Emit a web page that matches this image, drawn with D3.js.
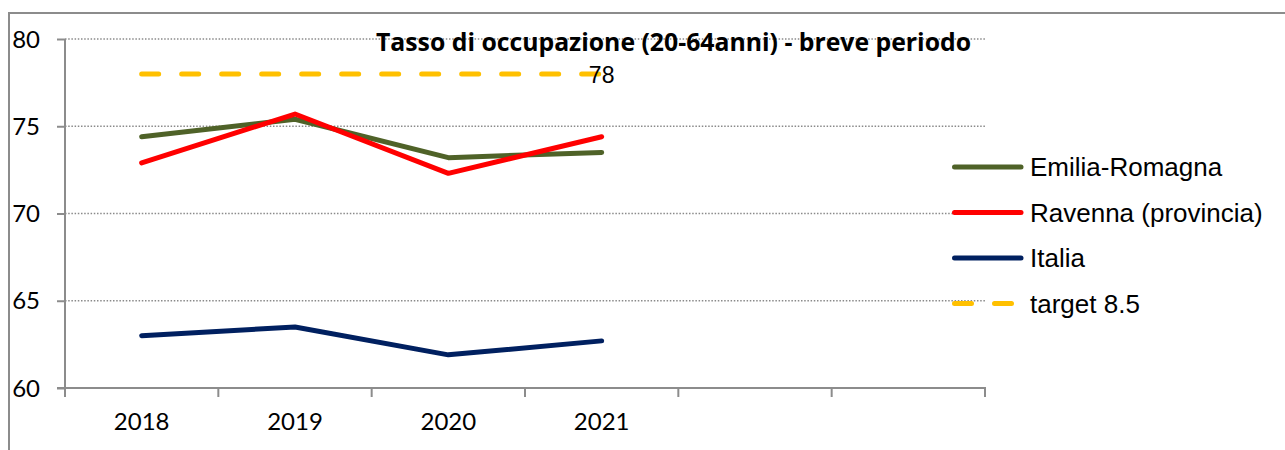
<!DOCTYPE html>
<html>
<head>
<meta charset="utf-8">
<script src="https://cdn.jsdelivr.net/npm/d3@7"></script>
<style>
  html, body { margin: 0; padding: 0; background: #fff; }
  svg { display: block; }
</style>
</head>
<body>
<svg id="chart" width="1285" height="450"></svg>
<script>
// data
const years = ['2018', '2019', '2020', '2021'];
const slots = 6; // two empty categories on the right of the axis
const emiliaRomagna = [74.4, 75.4, 73.2, 73.5];
const ravenna = [72.9, 75.7, 72.3, 74.4];
const italia = [63.0, 63.5, 61.9, 62.7];
const target = [78, 78, 78, 78];
const yTicks = [60, 65, 70, 75, 80];

const series = [
    { name: 'Emilia-Romagna', values: emiliaRomagna, color: '#4F6228' },
    { name: 'Ravenna (provincia)', values: ravenna, color: '#FF0000' },
    { name: 'Italia', values: italia, color: '#002060' },
    { name: 'target 8.5', values: target, color: '#FFC000', dashed: true }
];

const svg = d3.select('#chart');
const axisColor = '#8c8c8c';

const x = d3.scaleBand().domain(d3.range(slots)).range([65, 985]).padding(0);
const y = d3.scaleLinear().domain([60, 80]).range([388, 39]);
const xc = i => x(i) + x.bandwidth() / 2;

// outer frame (only top and left edges are visible)
svg.append('rect')
    .attr('x', 9).attr('y', 13)
    .attr('width', 1400).attr('height', 600)
    .attr('fill', 'none')
    .attr('stroke', axisColor)
    .attr('stroke-width', 2);

// gridlines
svg.append('g')
    .selectAll('line')
    .data(yTicks.filter(t => t > 60))
    .join('line')
        .attr('x1', 65).attr('x2', 985)
        .attr('y1', d => y(d)).attr('y2', d => y(d))
        .attr('stroke', '#8a8a8a')
        .attr('stroke-width', 1.3)
        .attr('stroke-dasharray', '1.5,1.7');

// y axis
const yAxis = svg.append('g')
    .attr('transform', 'translate(65,0)')
    .call(d3.axisLeft(y).tickValues(yTicks).tickSize(8).tickPadding(17));
yAxis.select('.domain').attr('stroke', axisColor).attr('stroke-width', 2).attr('d', `M0,${y(80)}V${y(60) + 9}`);
yAxis.selectAll('.tick line').attr('stroke', axisColor).attr('stroke-width', 2);
yAxis.selectAll('.tick text')
    .attr('fill', '#000')
    .attr('font-family', 'Lato, "Open Sans", sans-serif')
    .attr('font-size', 24)
    .attr('dy', '0.34em');

// x axis: ticks sit on the category boundaries
const xAxis = svg.append('g').attr('transform', `translate(0,${y(60)})`);
xAxis.append('line')
    .attr('x1', 57).attr('x2', 986)
    .attr('stroke', axisColor).attr('stroke-width', 2);
xAxis.selectAll('.xtick')
    .data(d3.range(slots + 1))
    .join('line')
        .attr('class', 'xtick')
        .attr('x1', d => 65 + d * x.step()).attr('x2', d => 65 + d * x.step())
        .attr('y1', 0).attr('y2', 9)
        .attr('stroke', axisColor).attr('stroke-width', 2);
xAxis.selectAll('.xlabel')
    .data(years)
    .join('text')
        .attr('class', 'xlabel')
        .attr('x', (d, i) => xc(i))
        .attr('y', 42)
        .attr('text-anchor', 'middle')
        .attr('font-family', 'Lato, "Open Sans", sans-serif')
        .attr('font-size', 24)
        .text(d => d);

// lines
const line = d3.line().x((d, i) => xc(i)).y(d => y(d));

svg.append('g')
    .selectAll('path')
    .data(series)
    .join('path')
        .attr('d', d => line(d.values))
        .attr('fill', 'none')
        .attr('stroke', d => d.color)
        .attr('stroke-width', 5)
        .attr('stroke-linecap', 'round')
        .attr('stroke-linejoin', 'round')
        .attr('stroke-dasharray', d => d.dashed ? '17,23' : null);

// data label on the last target point
svg.append('text')
    .attr('x', xc(target.length - 1))
    .attr('y', y(target[target.length - 1]) + 9)
    .attr('text-anchor', 'middle')
    .attr('font-family', '"Liberation Sans", Arial, sans-serif')
    .attr('font-size', 23)
    .text(target[target.length - 1]);

// title
svg.append('text')
    .attr('x', 376)
    .attr('y', 51)
    .attr('font-family', '"Open Sans", sans-serif')
    .attr('font-weight', 'bold')
    .attr('font-size', 25)
    .attr('textLength', 595)
    .attr('lengthAdjust', 'spacingAndGlyphs')
    .text('Tasso di occupazione (20-64anni) - breve periodo');

// legend
const legend = svg.append('g')
    .selectAll('g')
    .data(series)
    .join('g')
        .attr('transform', (d, i) => `translate(952,${167 + i * 45.5})`);

legend.append('line')
    .attr('x1', 2.5).attr('x2', d => d.dashed ? 64 : 69)
    .attr('stroke', d => d.color)
    .attr('stroke-width', 5)
    .attr('stroke-linecap', 'round')
    .attr('stroke-dasharray', d => d.dashed ? '17,23' : null);

legend.append('text')
    .attr('x', 78)
    .attr('y', 9)
    .attr('font-family', '"Liberation Sans", Arial, sans-serif')
    .attr('font-size', 26)
    .text(d => d.name);
</script>
</body>
</html>
